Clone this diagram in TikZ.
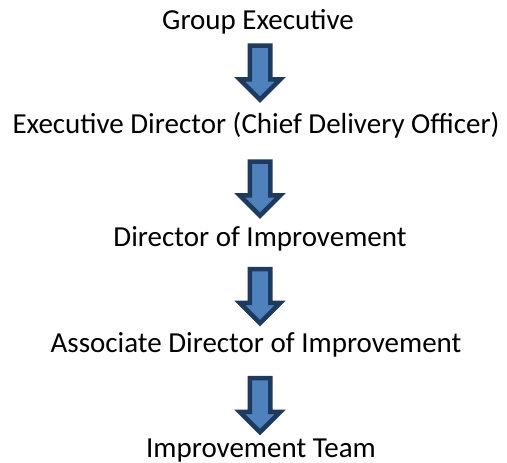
\documentclass[tikz,border=0pt]{standalone}
\usepackage{fontspec}
\setmainfont{Carlito}
\usetikzlibrary{shapes.arrows}

\definecolor{arrowfill}{HTML}{4F81BD}
\definecolor{arrowedge}{HTML}{1F3A5F}

\tikzset{
    level/.style={anchor=base, inner sep=0pt, font=\fontsize{29}{34}\selectfont},
    blockarrow/.style={single arrow, rotate=-90, draw=arrowedge, fill=arrowfill,
        line width=4.5pt, inner sep=8pt, minimum width=36pt, minimum height=54pt,
        single arrow head extend=10pt, single arrow tip angle=90}
}

\begin{document}
\begin{tikzpicture}[x=1pt, y=-1pt]
    \useasboundingbox (0,0) rectangle (507,463);

    % Levels of the chain
    \node[level] (group) at (258, 29) {Group Executive};
    \node[level] (execdir) at (256, 133) {Executive Director (Chief Delivery Officer)};
    \node[level] (director) at (260, 246) {Director of Improvement};
    \node[level] (assoc) at (256, 352) {Associate Director of Improvement};
    \node[level] (team) at (261, 457) {Improvement Team};

    % Block arrows between levels
    \node[blockarrow] (arr1) at (260, 67.5) {};
    \node[blockarrow] (arr2) at (260, 183.5) {};
    \node[blockarrow] (arr3) at (260, 291) {};
    \node[blockarrow] (arr4) at (260, 400) {};
\end{tikzpicture}
\end{document}
